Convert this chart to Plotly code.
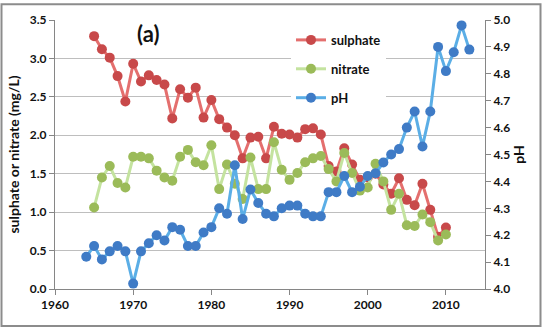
import plotly.graph_objects as go

years_sn = list(range(1965, 2011))
sulphate = [3.29, 3.12, 3.01, 2.77, 2.44, 2.93, 2.70, 2.78, 2.72, 2.66,
            2.22, 2.60, 2.49, 2.62, 2.23, 2.46, 2.21, 2.10, 2.00, 1.70,
            1.97, 1.98, 1.70, 2.11, 2.02, 2.01, 1.97, 2.08, 2.09, 2.01,
            1.60, 1.53, 1.83, 1.62, 1.42, 1.45, 1.50, 1.36, 1.24, 1.44,
            1.16, 1.09, 1.37, 1.03, 0.68, 0.80]
nitrate = [1.06, 1.45, 1.60, 1.38, 1.32, 1.72, 1.72, 1.70, 1.54, 1.45,
           1.41, 1.72, 1.81, 1.65, 1.61, 1.87, 1.30, 1.62, 1.37, 1.17,
           1.71, 1.30, 1.30, 1.91, 1.55, 1.42, 1.51, 1.65, 1.70, 1.73,
           1.56, 1.40, 1.77, 1.51, 1.28, 1.32, 1.63, 1.40, 1.03, 1.24,
           0.83, 0.82, 0.97, 0.87, 0.63, 0.71]
years_ph = list(range(1964, 2014))
ph = [4.12, 4.16, 4.11, 4.14, 4.16, 4.14, 4.02, 4.14, 4.17, 4.20,
      4.18, 4.23, 4.22, 4.16, 4.16, 4.21, 4.23, 4.30, 4.28, 4.46,
      4.26, 4.37, 4.32, 4.28, 4.27, 4.30, 4.31, 4.31, 4.28, 4.27,
      4.27, 4.36, 4.36, 4.42, 4.36, 4.38, 4.42, 4.43, 4.47, 4.50,
      4.52, 4.60, 4.66, 4.53, 4.66, 4.90, 4.81, 4.88, 4.98, 4.89]

x_ticks = [1960, 1970, 1980, 1990, 2000, 2010]
left_ticks = [0.0, 0.5, 1.0, 1.5, 2.0, 2.5, 3.0, 3.5]
right_ticks = [4.0, 4.1, 4.2, 4.3, 4.4, 4.5, 4.6, 4.7, 4.8, 4.9, 5.0]

FONT = "Lato"
W, H = 542, 329
L, R, T, B = 55, 57, 17, 40
pw, ph_ = W - L - R, H - T - B

fig = go.Figure()
fig.add_trace(go.Scatter(x=years_sn, y=sulphate, name="sulphate", mode="lines+markers",
                         line=dict(color="#E46F6E", width=3),
                         marker=dict(color="#C8494A", size=10, line=dict(width=0)),
                         legendgroup="a"))
fig.add_trace(go.Scatter(x=years_sn, y=nitrate, name="nitrate", mode="lines+markers",
                         line=dict(color="#C4E39F", width=3),
                         marker=dict(color="#9BBB59", size=10, line=dict(width=0)),
                         legendgroup="b"))
fig.add_trace(go.Scatter(x=years_ph, y=ph, name="pH", mode="lines+markers",
                         line=dict(color="#5BAEE6", width=3),
                         marker=dict(color="#3F7BC6", size=10, line=dict(width=0)),
                         legendgroup="c", yaxis="y2"))

tickfont = dict(family=FONT, size=12, color="#111111", weight="bold")
fig.update_layout(
    width=W, height=H,
    margin=dict(l=L, r=R, t=T, b=B),
    paper_bgcolor="white", plot_bgcolor="white",
    font=dict(family=FONT),
    showlegend=True,
    legend=dict(x=(291 - L) / pw, y=(H - B - 22) / ph_, xanchor="left", yanchor="top",
                bgcolor="white", font=dict(family=FONT, size=13, color="#111111", weight="bold"),
                tracegroupgap=9, itemwidth=30),
    xaxis=dict(range=[1960, 2015], tickvals=x_ticks, ticks="outside", ticklen=5,
               tickcolor="#868686", showline=True, linecolor="#868686", linewidth=1,
               showgrid=False, zeroline=False, tickfont=tickfont),
    yaxis=dict(range=[0, 3.5], tickvals=left_ticks, tickformat=".1f", ticks="outside",
               ticklen=5, tickcolor="#868686", showline=True, linecolor="#868686",
               showgrid=True, gridcolor="#BEBEBE", gridwidth=1, zeroline=False,
               tickfont=tickfont,
               title=dict(text="sulphate or nitrate (mg/L)", standoff=6,
                          font=dict(family=FONT, size=14, color="#111111", weight="bold"))),
    yaxis2=dict(range=[4.0, 5.0], tickvals=right_ticks, tickformat=".1f", overlaying="y",
                side="right", ticks="outside", ticklen=5, tickcolor="#868686",
                showline=True, linecolor="#868686", showgrid=False, zeroline=False,
                tickfont=tickfont,
                title=dict(text="pH", standoff=4,
                           font=dict(family=FONT, size=14, color="#111111", weight="bold"))),
    annotations=[dict(text="(a)", xref="paper", yref="paper",
                      x=(148 - L) / pw, y=(H - B - 31) / ph_, xanchor="center", yanchor="middle",
                      showarrow=False, bgcolor="white", borderpad=3,
                      font=dict(family=FONT, size=22, color="#111111", weight="bold"))],
    shapes=[dict(type="rect", xref="paper", yref="paper",
                 x0=(1.5 - L) / pw, x1=(540.5 - L) / pw,
                 y0=(H - B - 326.5) / ph_, y1=(H - B - 1) / ph_,
                 line=dict(color="#8C8C8C", width=2), layer="above")],
)

fig.write_html("out.html")
